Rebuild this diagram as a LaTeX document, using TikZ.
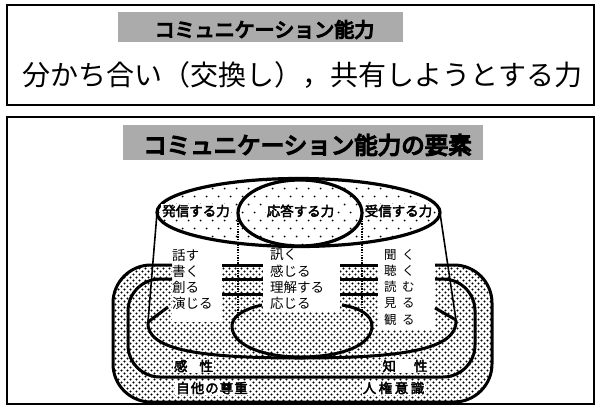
\documentclass[tikz,border=0pt]{standalone}
\usepackage{fontspec}
\usetikzlibrary{patterns}
\newfontfamily\jp{Noto Sans CJK JP}
\newfontfamily\jpb{Noto Sans CJK JP}[FakeBold=3]
\newfontfamily\jph{Noto Sans CJK JP}[FakeBold=6]
\pgfdeclarepatternformonly{densedots}{\pgfqpoint{-1pt}{-1pt}}{\pgfqpoint{7pt}{7pt}}{\pgfqpoint{6pt}{6pt}}{%
  \pgfpathcircle{\pgfqpoint{1.5pt}{1.5pt}}{1.1pt}%
  \pgfpathcircle{\pgfqpoint{4.5pt}{4.5pt}}{1.1pt}%
  \pgfusepath{fill}}
\pgfdeclarepatternformonly{sparsedots}{\pgfqpoint{-1pt}{-1pt}}{\pgfqpoint{13pt}{17pt}}{\pgfqpoint{12pt}{16pt}}{%
  \pgfpathcircle{\pgfqpoint{2.5pt}{3.5pt}}{1pt}%
  \pgfpathcircle{\pgfqpoint{8.5pt}{11.5pt}}{1pt}%
  \pgfusepath{fill}}
\begin{document}
\begin{tikzpicture}[x=1pt,y=-1pt,
  frame/.style={draw=black, line width=1.5pt},
  titlebar/.style={fill=black!33},
  bigtitle/.style={font=\jph\fontsize{#1}{#1}\selectfont, inner sep=0pt},
  deftext/.style={font=\jp\fontsize{28}{28}\selectfont, inner sep=0pt},
  powerlabel/.style={font=\jpb\fontsize{13.5}{13.5}\selectfont, fill=white, inner sep=1.2pt},
  coltext/.style={font=\jp\fontsize{13.5}{13.5}\selectfont, inner sep=0pt, anchor=west},
  rcoltext/.style={font=\jp\fontsize{12.5}{12.5}\selectfont, inner sep=0pt, anchor=west},
  layerlabel/.style={font=\jpb\fontsize{13.5}{13.5}\selectfont, fill=white, inner sep=1pt},
  heavyline/.style={line width=3pt},
  ellipseline/.style={line width=3.2pt},
  sideline/.style={line width=1.6pt},
  backline/.style={line width=1.4pt, dash pattern=on 1.3pt off 1.3pt},
  densefill/.style={pattern=densedots, pattern color=black},
  sparsefill/.style={pattern=sparsedots, pattern color=black}
]
\useasboundingbox (0,0) rectangle (597,408);
\fill[white] (0,0) rectangle (597,408);

% upper box
\draw[frame] (7,5) rectangle (594,105);
\fill[titlebar] (118,12) rectangle (403,42);
\node[bigtitle=20] (title1) at (264.5,29.5) {コミュニケーション能力};
\node[deftext] (definition) at (302.5,75) {分かち合い（交換し），共有しようとする力};

% lower box
\draw[frame] (7,117) rectangle (594,404);
\fill[titlebar] (123,125) rectangle (483,160);
\node[bigtitle=23.5] (title2) at (307.5,145) {コミュニケーション能力の要素};

% base layers
\path[densefill, rounded corners=38pt] (113,265) rectangle (492,402);
\fill[white] (172,255) rectangle (222,322);
\fill[white] (263,255) rectangle (340,312);
\fill[white] (378,255) rectangle (435,330);

\draw[heavyline, rounded corners=38pt] (172,265) -- (113,265) -- (113,402) -- (492,402) -- (492,265) -- (435,265);
\draw[heavyline, rounded corners=32pt] (172,279) -- (128,279) -- (128,377) -- (475,377) -- (475,279) -- (435,279);
\foreach \yy in {265,279,294} {
  \draw[heavyline] (222,\yy) -- (263,\yy);
  \draw[heavyline] (340,\yy) -- (378,\yy);
}

% cylinder bottom and inner bottom
\draw[heavyline] (148,322) .. controls (146,350) and (200,358) .. (300,358) .. controls (400,358) and (458,350) .. (456,320);
\draw[heavyline] (168,307) -- (148,322);
\draw[heavyline] (435,308) -- (456,320);
\draw[heavyline] (262,305) .. controls (240,310) and (232,318) .. (232,326) .. controls (232,346) and (265,357) .. (300,357) .. controls (340,357) and (372,346) .. (372,326) .. controls (372,315) and (360,308) .. (342,305);

% top of cylinder
\path[sparsefill] (298.5,212.5) ellipse [x radius=141.5, y radius=34];
\draw[ellipseline] (298.5,212.5) ellipse [x radius=141.5, y radius=34];
\draw[ellipseline] (300,213) ellipse [x radius=62, y radius=33];
\draw[sideline] (157,213) -- (148,322);
\draw[sideline] (440,213) -- (456,320);
\draw[backline] (238,213) -- (238,318);
\draw[backline] (362,213) -- (362,316);

\node[powerlabel] (send) at (196,211) {発信する力};
\node[powerlabel] (respond) at (300.5,211) {応答する力};
\node[powerlabel] (receive) at (398.5,211) {受信する力};

% columns
\node[coltext] (speak) at (172,255) {話す};
\node[coltext] (write) at (172,271) {書く};
\node[coltext] (create) at (172,287) {創る};
\node[coltext] (perform) at (172,303) {演じる};
\node[coltext] (ask) at (270,255) {訊く};
\node[coltext] (feel) at (270,271) {感じる};
\node[coltext] (understand) at (270,287) {理解する};
\node[coltext] (answer) at (270,303) {応じる};
\node[rcoltext] (hear) at (384,255) {聞\hspace{5.5pt}く};
\node[rcoltext] (listen) at (384,271) {聴\hspace{5.5pt}く};
\node[rcoltext] (read) at (384,287) {読\hspace{5.5pt}む};
\node[rcoltext] (see) at (384,303) {見\hspace{5.5pt}る};
\node[rcoltext] (watch) at (384,320) {観\hspace{5.5pt}る};

% layer labels
\node[layerlabel] (sensibility) at (193.5,366) {感\hspace{12pt}性};
\node[layerlabel] (intellect) at (405,366) {知\hspace{18pt}性};
\node[layerlabel] (respect) at (212,388) {自\hspace{1pt}他\hspace{1pt}の\hspace{1pt}尊\hspace{1pt}重};
\node[layerlabel] (rights) at (393.5,388) {人\hspace{2.5pt}権\hspace{2.5pt}意\hspace{2.5pt}識};
\end{tikzpicture}
\end{document}
